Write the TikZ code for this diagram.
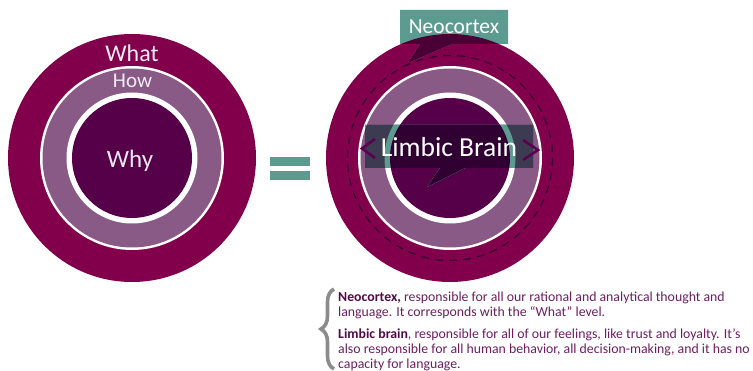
\documentclass[tikz,border=0pt]{standalone}
\usepackage{fontspec}
\setmainfont{Carlito}
\usetikzlibrary{decorations.pathreplacing}
\definecolor{magentaring}{HTML}{82004B}
\definecolor{lightring}{HTML}{8A5A87}
\definecolor{darkcore}{HTML}{56004A}
\definecolor{tealc}{HTML}{5C9B90}
\definecolor{blendlight}{HTML}{3D3B52}
\definecolor{blenddark}{HTML}{300032}
\definecolor{blendmag}{HTML}{4A0035}
\definecolor{dashc}{HTML}{3A0032}
\definecolor{txtpurple}{HTML}{6E1E60}
\definecolor{boldpurple}{HTML}{520A48}
\definecolor{bracegrey}{HTML}{8C8C8C}
\definecolor{chev}{HTML}{5A004F}
\tikzset{
  ringlabel/.style={text=#1, inner sep=0pt, anchor=base},
  bodyline/.style={anchor=base west, inner sep=0pt, text=txtpurple, font=\fontsize{13.8}{15}\selectfont},
  eqbar/.style={fill=tealc, draw=none},
  chevron/.style={draw=chev, line width=2.6pt, line join=miter}
}
\newcommand{\rings}[1]{%
  \fill[magentaring] (#1) circle[radius=124];
  \fill[white] (#1) circle[radius=92];
  \fill[lightring] (#1) circle[radius=89.5];
  \fill[white] (#1) circle[radius=65.5];
  \fill[darkcore] (#1) circle[radius=60];
}
\begin{document}
\begin{tikzpicture}[x=1pt,y=-1pt]
\useasboundingbox (0,0) rectangle (753,371);
% left circle
\coordinate (L) at (132,158);
\rings{L}
\node[ringlabel=white!92!magentaring, font=\fontsize{24}{24}\selectfont] (what) at (132,62) {What};
\node[ringlabel=white!88!lightring, font=\fontsize{21}{21}\selectfont] (how) at (132.5,88) {How};
\node[ringlabel=white!90!darkcore, font=\fontsize{25}{25}\selectfont] (why) at (130,168) {Why};
% equals
\fill[eqbar] (270,157) rectangle (310,166);
\fill[eqbar] (270,171) rectangle (310,180);
% right circle
\coordinate (R) at (450,158);
\rings{R}
% Neocortex callout
\begin{scope}
  \clip (400,10) -- (508,10) -- (508,44) -- (452,44) -- (408,63) -- (420,44) -- (400,44) -- cycle;
  \fill[tealc] (395,5) rectangle (515,70);
  \fill[blendmag] (R) circle[radius=124];
\end{scope}
\draw[dashc, line width=1.3pt, dash pattern=on 8pt off 6pt] (R) circle[radius=102.5];
\node[text=white, inner sep=0pt, font=\fontsize{21.5}{21.5}\selectfont] (neo) at (454,27) {Neocortex};
% Limbic callout
\begin{scope}
  \clip (365,125) -- (533,125) -- (533,168) -- (465,168) -- (427,187) -- (440,168) -- (365,168) -- cycle;
  \fill[blendmag] (360,120) rectangle (540,190);
  \fill[tealc] (R) circle[radius=92];
  \fill[blendlight] (R) circle[radius=89.5];
  \fill[tealc] (R) circle[radius=65.5];
  \fill[blenddark] (R) circle[radius=60];
\end{scope}
\draw[chevron] (375,139) -- (362,148.5) -- (375,158);
\draw[chevron] (523,140) -- (538,150) -- (523,160);
\node[text=white, inner sep=0pt, anchor=base, font=\fontsize{27.5}{27.5}\selectfont] (limbic) at (449,157) {Limbic Brain};
% brace
\draw[bracegrey, line width=3.6pt, decorate, decoration={brace, amplitude=13pt}] (334,369) -- (334,289);
% text
\node[bodyline] (t1) at (338,302) {\textbf{\color{boldpurple}Neocortex,} responsible for all our rational and analytical thought and};
\node[bodyline] (t2) at (338,317) {language. It corresponds with the “What” level.};
\node[bodyline] (t3) at (338,339) {\textbf{\color{boldpurple}Limbic brain}, responsible for all of our feelings, like trust and loyalty. It’s};
\node[bodyline] (t4) at (338,354) {also responsible for all human behavior, all decision-making, and it has no};
\node[bodyline] (t5) at (338,369) {capacity for language.};
\end{tikzpicture}
\end{document}
